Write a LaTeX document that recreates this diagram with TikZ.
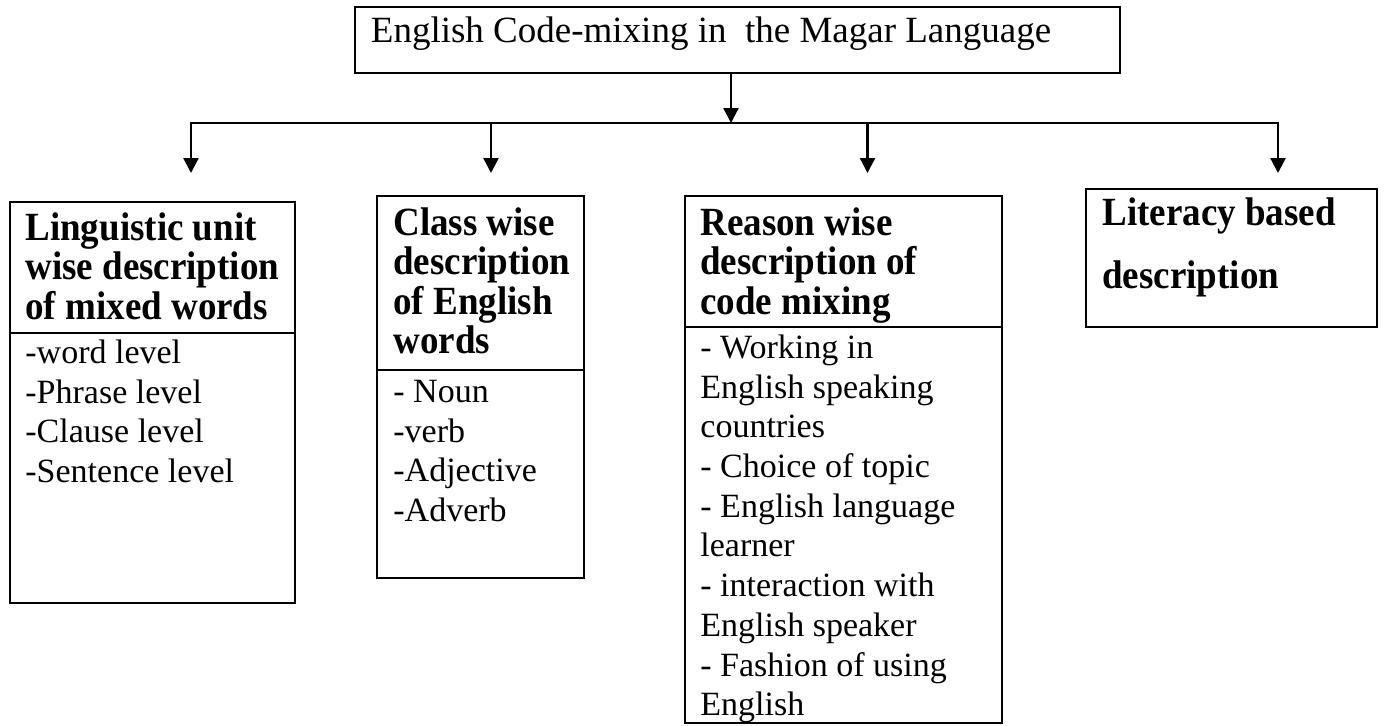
\documentclass[tikz,border=0pt]{standalone}
\usepackage{fontspec}
\setmainfont{Liberation Serif}
\newfontfamily\headfont[FakeStretch=0.925]{Liberation Serif}
\usetikzlibrary{calc}
\usetikzlibrary{arrows.meta}

\begin{document}
\begin{tikzpicture}[x=0.5pt,y=-0.5pt,>={Triangle[length=7.5pt,width=7.5pt]},
        box/.style={draw,line width=1.4pt,inner sep=0pt,outer sep=0pt,anchor=north west},
        link/.style={line width=1.15pt},
        headtext/.style={anchor=north west,inner sep=0pt,align=left,font=\headfont\bfseries\fontsize{20}{19.75}\selectfont},
        bodytext/.style={anchor=north west,inner sep=0pt,align=left,font=\fontsize{17}{19.85}\selectfont}]
            \useasboundingbox (0,0) rectangle (1386,725);
            % top box
            \node[box,minimum width=382.5pt,minimum height=33pt] (title) at (355,7) {};
            \node[anchor=base west,inner sep=0pt,font=\fontsize{18.5}{22}\selectfont] (titletext) at (370.5,42)
                {English Code-mixing in\ \ the Magar Language};
            % the four boxes, head and body
            \node[box,minimum width=142.5pt,minimum height=65.5pt] (linghead) at (10,202) {};
            \node[box,minimum width=142.5pt,minimum height=135pt] (lingbody) at (linghead.south west) {};
            \node[box,minimum width=103.5pt,minimum height=87pt] (classhead) at (377,196) {};
            \node[box,minimum width=103.5pt,minimum height=104pt] (classbody) at (classhead.south west) {};
            \node[box,minimum width=158.5pt,minimum height=65.5pt] (reasonhead) at (685,196) {};
            \node[box,minimum width=158.5pt,minimum height=198pt] (reasonbody) at (reasonhead.south west) {};
            \node[box,minimum width=145.5pt,minimum height=69pt] (lithead) at (1086,189) {};
            % texts
            \node[headtext] (lingtext) at ($(linghead.north west)+(15,0)$)
                {\rule{0pt}{19pt}Linguistic unit\\wise description\\of mixed words};
            \node[bodytext] (linglist) at ($(linghead.south west)+(15,0)$)
                {\rule{0pt}{15pt}-word level\\-Phrase level\\-Clause level\\-Sentence level};
            \node[headtext] (classtext) at ($(classhead.north west)+(16,0)$)
                {\rule{0pt}{19.5pt}Class wise\\description\\of English\\words};
            \node[bodytext] (classlist) at ($(classhead.south west)+(16,0)$)
                {\rule{0pt}{16pt}- Noun\\-verb\\-Adjective\\-Adverb};
            \node[headtext] (reasontext) at ($(reasonhead.north west)+(15,0)$)
                {\rule{0pt}{19.5pt}Reason wise\\description of\\code mixing};
            \node[bodytext] (reasonlist) at ($(reasonhead.south west)+(15,0)$)
                {\rule{0pt}{15.5pt}- Working in\\English speaking\\countries\\- Choice of topic\\- English language\\learner\\- interaction with\\English speaker\\- Fashion of using\\English};
            \node[headtext,font=\headfont\bfseries\fontsize{20}{31.5}\selectfont] (littext) at ($(lithead.north west)+(16,0)$)
                {\rule{0pt}{18pt}Literacy based\\description};
            % arrows
            \coordinate (split) at (731,123);
            \foreach \n/\x in {1/191,2/491,3/867.5,4/1278}{
                \coordinate (top\n) at (\x,123);
                \coordinate (tip\n) at (\x,173);
            }
            \draw[link,->] (split |- title.south) -- (split);
            \draw[link,<->] (tip1) -- (top1) -- (top4) -- (tip4);
            \foreach \n in {2,3}
                \draw[link,->] (top\n) -- (tip\n);
        \end{tikzpicture}
\end{document}
